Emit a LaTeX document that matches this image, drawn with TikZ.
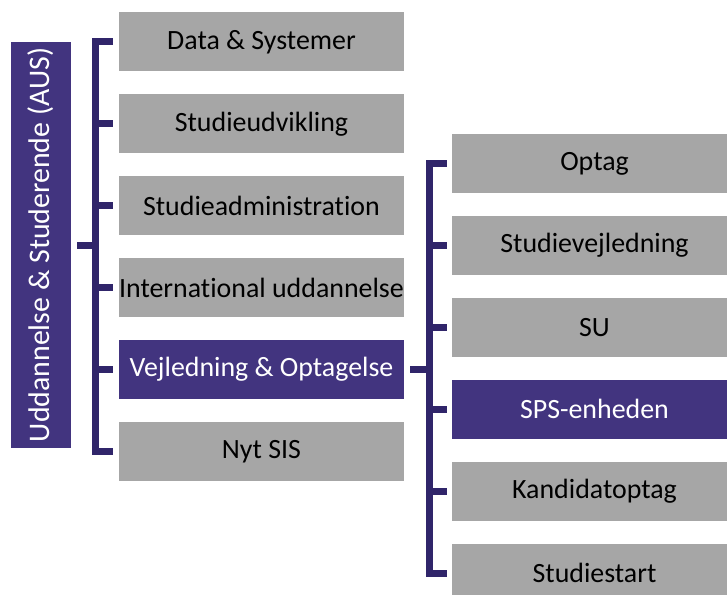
\documentclass[tikz,border=0pt]{standalone}
\usepackage{fontspec}
\usepackage{graphicx}
\setmainfont[Ligatures=NoCommon]{Carlito}
\usetikzlibrary{positioning}
\definecolor{auspurple}{HTML}{42347F}
\definecolor{bracketpurple}{HTML}{30256A}
\definecolor{unitgray}{HTML}{A6A6A6}

\begin{document}
\begin{tikzpicture}[x=1bp, y=-1bp, font=\fontsize{28}{32}\selectfont]
    \tikzstyle{unit} = [rectangle, minimum width=285bp, minimum height=59bp, inner sep=0pt,
      fill=unitgray, text=black]
    \tikzstyle{active} = [unit, fill=auspurple, text=white]
    \tikzstyle{bracket} = [draw=bracketpurple, line width=7bp]

    \useasboundingbox (0,0) rectangle (727,595);

    % Layout: AUS bar on the left, two columns of units to the right
    \node (aus) [rectangle, fill=auspurple, text=white, minimum width=60bp, minimum height=406bp,
      inner sep=0pt, font=\fontsize{30}{34}\selectfont] at (41,245)
      {\rotatebox{90}{Uddannelse \& Studerende (AUS)}};

    \node (data)      [unit] at (261.5,42) {Data \& Systemer};
    \node (studieudv) [unit, below=22.5bp of data] {Studieudvikling};
    \node (studieadm) [unit, below=22.5bp of studieudv] {Studieadministration};
    \node (intl)      [unit, below=22.5bp of studieadm] {International uddannelse};
    \node (vejl)      [active, below=22.5bp of intl] {Vejledning \& Optagelse};
    \node (nytsis)    [unit, below=22.5bp of vejl] {Nyt SIS};

    \node (optag)       [unit] at (594.5,163.5) {Optag};
    \node (studievejl)  [unit, below=22.5bp of optag] {Studievejledning};
    \node (su)          [unit, below=22.5bp of studievejl] {SU};
    \node (sps)         [active, below=22.5bp of su] {SPS-enheden};
    \node (kandidat)    [unit, below=22.5bp of sps] {Kandidatoptag};
    \node (studiestart) [unit, below=22.5bp of kandidat] {Studiestart};

    % AUS -> first column
    \coordinate (spineA) at ([xshift=-23bp]data.west);
    \draw [bracket] ([xshift=-6bp]data.west) -- (spineA) |- ([xshift=-6bp]nytsis.west);
    \foreach \n in {studieudv, studieadm, intl, vejl}
      \draw [bracket] (spineA |- \n.west) -- ([xshift=-6bp]\n.west);
    \draw [bracket] ([xshift=6bp]aus.east) -- (spineA |- aus.east);

    % Vejledning & Optagelse -> second column
    \coordinate (spineB) at ([xshift=-22bp]optag.west);
    \draw [bracket] ([xshift=-5bp]optag.west) -- (spineB) |- ([xshift=-5bp]studiestart.west);
    \foreach \n in {studievejl, su, sps, kandidat}
      \draw [bracket] (spineB |- \n.west) -- ([xshift=-5bp]\n.west);
    \draw [bracket] ([xshift=6bp]vejl.east) -- (spineB |- vejl.east);
\end{tikzpicture}
\end{document}
